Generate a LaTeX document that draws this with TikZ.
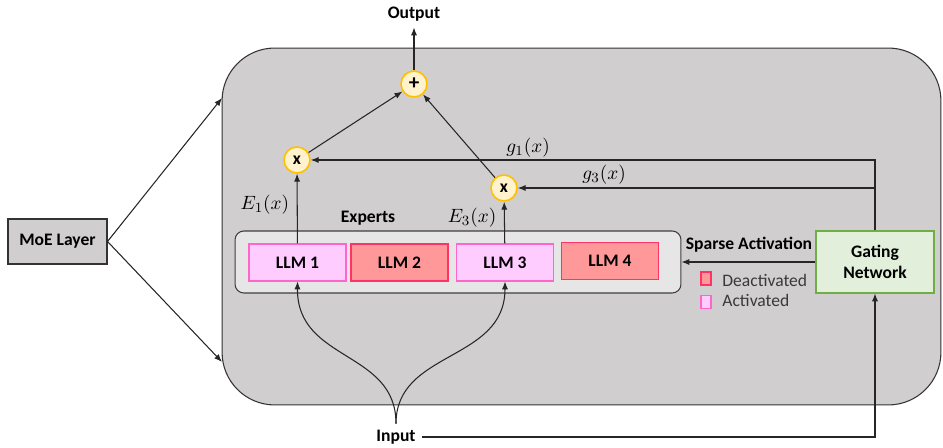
\documentclass[tikz,border=0pt]{standalone}
\usepackage{fontspec}
\setmainfont{Carlito}
\usepackage{amsmath}
\usetikzlibrary{arrows.meta}
\definecolor{layergray}{HTML}{D0CECE}
\definecolor{expertgray}{HTML}{E7E6E6}
\definecolor{actfill}{HTML}{FFCCFF}
\definecolor{actline}{HTML}{FF66CC}
\definecolor{deactfill}{HTML}{FF9999}
\definecolor{deactline}{HTML}{FF3366}
\definecolor{gatefill}{HTML}{E2EFDA}
\definecolor{gateline}{HTML}{70AD47}
\definecolor{opfill}{HTML}{FFF2CC}
\definecolor{opline}{HTML}{FFC000}
\definecolor{legendtext}{HTML}{3B3838}

\begin{document}
\begin{tikzpicture}[x=0.02cm, y=-0.02cm, >={Latex[length=4.5pt,width=3.5pt]},
      every node/.append style={font=\fontsize{10}{12}\selectfont\bfseries},
      line width=0.6pt]
    \tikzstyle{conn} = [->, draw=black!85]
    \tikzstyle{llm} = [draw, minimum width=1.94cm, minimum height=0.74cm, inner sep=0pt]
    \tikzstyle{act} = [llm, fill=actfill, draw=actline]
    \tikzstyle{deact} = [llm, fill=deactfill, draw=deactline]
    \tikzstyle{op} = [circle, fill=opfill, draw=opline, line width=0.9pt, minimum size=0.52cm, inner sep=0pt]
    \tikzstyle{mathlab} = [font=\fontsize{11}{13}\selectfont]
    \tikzstyle{legbox} = [draw, minimum width=0.2cm, minimum height=0.26cm, inner sep=0pt]
    \useasboundingbox (0,0) rectangle (943,448);
    \node (layer) [draw=black!80, fill=layergray, rounded corners=30pt, minimum width=14.38cm, minimum height=7.14cm] at (581.5,226.5) {};
    \node (moe) [draw=black!80, fill=layergray, minimum width=1.98cm, minimum height=0.9cm, inner sep=0pt] at (57.5,241.5) {MoE Layer};
    \coordinate (moetop) at (222,98);
    \coordinate (moebot) at (222,362);
    \draw[conn] (moe.east) -- (moetop);
    \draw[conn] (moe.east) -- (moebot);
    \node (experts) [draw=black!75, fill=expertgray, rounded corners=5pt, minimum width=8.92cm, minimum height=1.24cm] at (458,262) {};
    \node (explab) at (368,218) {Experts};
    \node (llm1) [act] at (297.5,262.5) {LLM 1};
    \node (llm2) [deact] at (399.5,262.5) {LLM 2};
    \node (llm3) [act] at (505,262.5) {LLM 3};
    \node (llm4) [deact] at (610,261) {LLM 4};
    \node (mul1) [op] at (297,160) {x};
    \node (mul3) [op] at (504,188) {x};
    \node (sum) [op] at (414,84) {\fontsize{12}{12}\selectfont +};
    \node (out) at (414,14) {Output};
    \node (gate) [draw=gateline, fill=gatefill, minimum width=2.36cm, minimum height=1.24cm, align=center, inner sep=0pt] at (875,262) {Gating\\Network};
    \node (input) at (396,437) {Input};
    \draw[conn] (llm1) -- (mul1) node [mathlab, pos=0.55, left=1pt] (e1lab) {$E_1(x)$};
    \draw[conn] (llm3) -- (mul3) node [mathlab, pos=0.62, left=1pt] (e3lab) {$E_3(x)$};
    \draw[conn] (mul1) -- (sum);
    \draw[conn] (mul3) -- (sum);
    \draw[conn] (sum) -- (out);
    \draw[conn] (gate.north) -- (gate.north |- mul1) -- (mul1);
    \draw[conn] (gate.north |- mul3) -- (mul3);
    \node (g1lab) [mathlab] at (528,148) {$g_1(x)$};
    \node (g3lab) [mathlab] at (604,175) {$g_3(x)$};
    \draw[conn] (gate.west) -- (gate.west -| experts.east);
    \node (sparse) at (749,245) {Sparse Activation};
    \node (deactbox) [legbox, fill=deactfill, draw=deactline] at (706,278.5) {};
    \node (actbox) [legbox, fill=actfill, draw=actline] at (706,302) {};
    \node (deactlab) [anchor=west, font=\fontsize{10}{12}\selectfont, text=legendtext] at (716,280) {Deactivated};
    \node (actlab) [anchor=west, font=\fontsize{10}{12}\selectfont, text=legendtext] at (716,300) {Activated};
    \draw[conn] (input.east) -- (input.east -| gate.south) -- (gate.south);
    \draw[conn] (input.north) .. controls (396,350) and (297,362) .. (llm1.south);
    \draw[conn] (input.north) .. controls (396,350) and (505,362) .. (llm3.south);
\end{tikzpicture}
\end{document}
